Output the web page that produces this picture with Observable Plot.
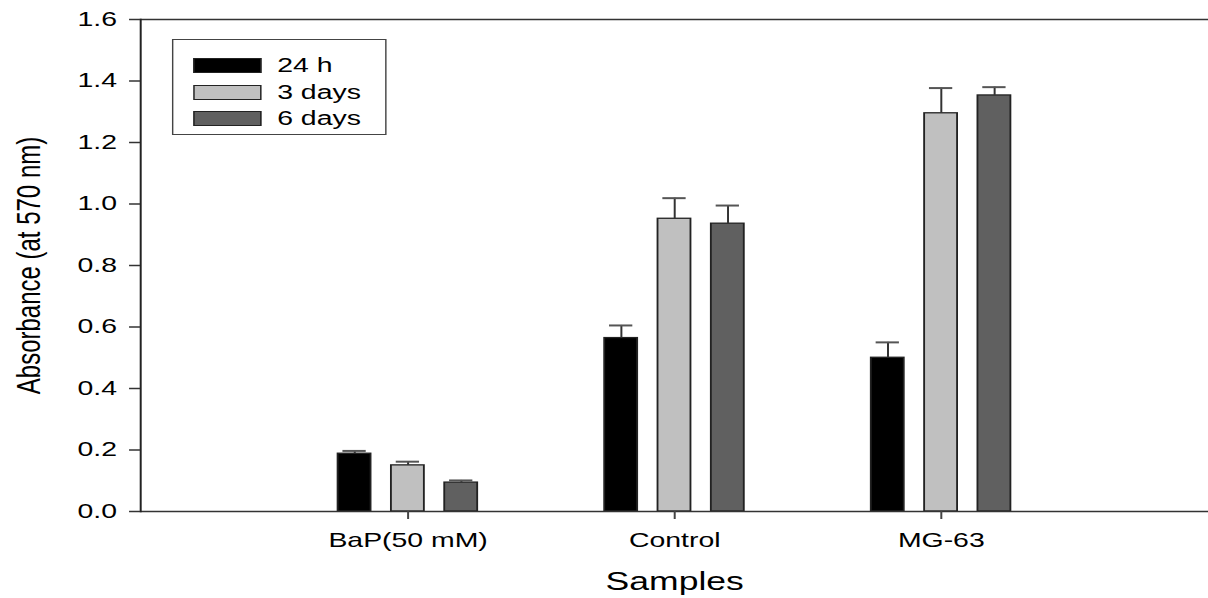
<!DOCTYPE html>
<html>
<head>
<meta charset="utf-8">
<script src="https://cdn.jsdelivr.net/npm/d3@7"></script>
<script src="https://cdn.jsdelivr.net/npm/@observablehq/plot@0.6"></script>
<style>
  html, body { margin: 0; padding: 0; background: #fff; overflow: hidden; }
  #wrap { position: relative; width: 850px; height: 598px; transform: scaleX(1.42118); transform-origin: 0 0; }
  #legend { position: absolute; left: 121px; top: 39px; width: 149px; height: 94px;
            border: 1.3px solid #444; background: #fff; font-family: "Liberation Sans", Arial, sans-serif; font-size: 20px; color: #000; }
  .row { position: absolute; left: 14px; height: 15px; display: flex; align-items: center; }
  .sw { width: 46px; height: 13px; border: 1.2px solid #222; box-sizing: content-box; }
  .lab { margin-left: 11px; line-height: 15px; white-space: nowrap; }
  g[aria-label="y-axis label"] { font-size: 24px; }
  g[aria-label="x-axis label"] { font-size: 25px; }
</style>
</head>
<body>
<div id="wrap"><div id="chart"></div><div id="legend"></div></div>
<script>
const categories = ["BaP(50 mM)", "Control", "MG-63"];
const series = ["24 h", "3 days", "6 days"];
const colors = ["#000000", "#c0c0c0", "#606060"];
const values24h = [0.188, 0.564, 0.500];
const values3d = [0.150, 0.952, 1.295];
const values6d = [0.094, 0.936, 1.353];
const err24h = [0.009, 0.041, 0.050];
const err3d = [0.012, 0.067, 0.082];
const err6d = [0.007, 0.059, 0.027];
const yTicks = [0, 0.2, 0.4, 0.6, 0.8, 1.0, 1.2, 1.4, 1.6];

const valueSets = [values24h, values3d, values6d];
const errSets = [err24h, err3d, err6d];
const key = (c, s) => c + "|" + s;
const rows = [];
categories.forEach((c, i) => series.forEach((s, j) => rows.push({key: key(c, s), sample: c, series: s, value: valueSets[j][i], err: errSets[j][i]})));

// band domain: three bars per sample, two empty slots between samples
const xDomain = [];
categories.forEach((c, i) => {
  if (i > 0) xDomain.push("gap" + i + "a", "gap" + i + "b");
  series.forEach(s => xDomain.push(key(c, s)));
});
const xTicks = categories.map(c => key(c, series[1]));

const plot = Plot.plot({
  width: 850,
  height: 598,
  marginLeft: 98.5,
  marginRight: 0,
  marginTop: 19,
  marginBottom: 87,
  style: {fontFamily: "'Liberation Sans', Arial, sans-serif", fontSize: "20px", color: "#000", background: "#fff"},
  x: {domain: xDomain, paddingInner: 0.382, paddingOuter: 3.706, round: false},
  y: {domain: [0, 1.6]},
  color: {domain: series, range: colors},
  marks: [
    Plot.barY(rows, {x: "key", y: "value", fill: "series", stroke: "#222", strokeWidth: 1.3}),
    Plot.ruleX(rows, {x: "key", y1: "value", y2: d => d.value + d.err, stroke: "#333", strokeWidth: 1.4}),
    Plot.tickY(rows, {x: "key", y: d => d.value + d.err, stroke: "#555", strokeWidth: 2, insetLeft: 3.4, insetRight: 3.4}),
    Plot.ruleY([0, 1.6], {stroke: "#333", strokeWidth: 1.5}),
    Plot.frame({anchor: "left", stroke: "#222", strokeWidth: 1.4}),
    Plot.axisY({ticks: yTicks, tickFormat: d3.format(".1f"), tickSize: 7.7, tickPadding: 9, stroke: "#333", strokeWidth: 1.5,
      label: "Absorbance (at 570 nm)", labelAnchor: "center", labelArrow: "none", labelOffset: 88}),
    Plot.axisX({ticks: xTicks, tickFormat: k => k.split("|")[0], tickSize: 8, tickPadding: 13, stroke: "#444", strokeWidth: 1.4,
      label: "Samples", labelAnchor: "center", labelArrow: "none", labelOffset: 78})
  ]
});
document.getElementById("chart").appendChild(plot);

const legend = d3.select("#legend");
series.forEach((s, j) => {
  const r = legend.append("div").attr("class", "row").style("top", (18 + j * 26.7) + "px");
  r.append("div").attr("class", "sw").style("background", colors[j]);
  r.append("div").attr("class", "lab").text(s);
});
</script>
</body>
</html>
